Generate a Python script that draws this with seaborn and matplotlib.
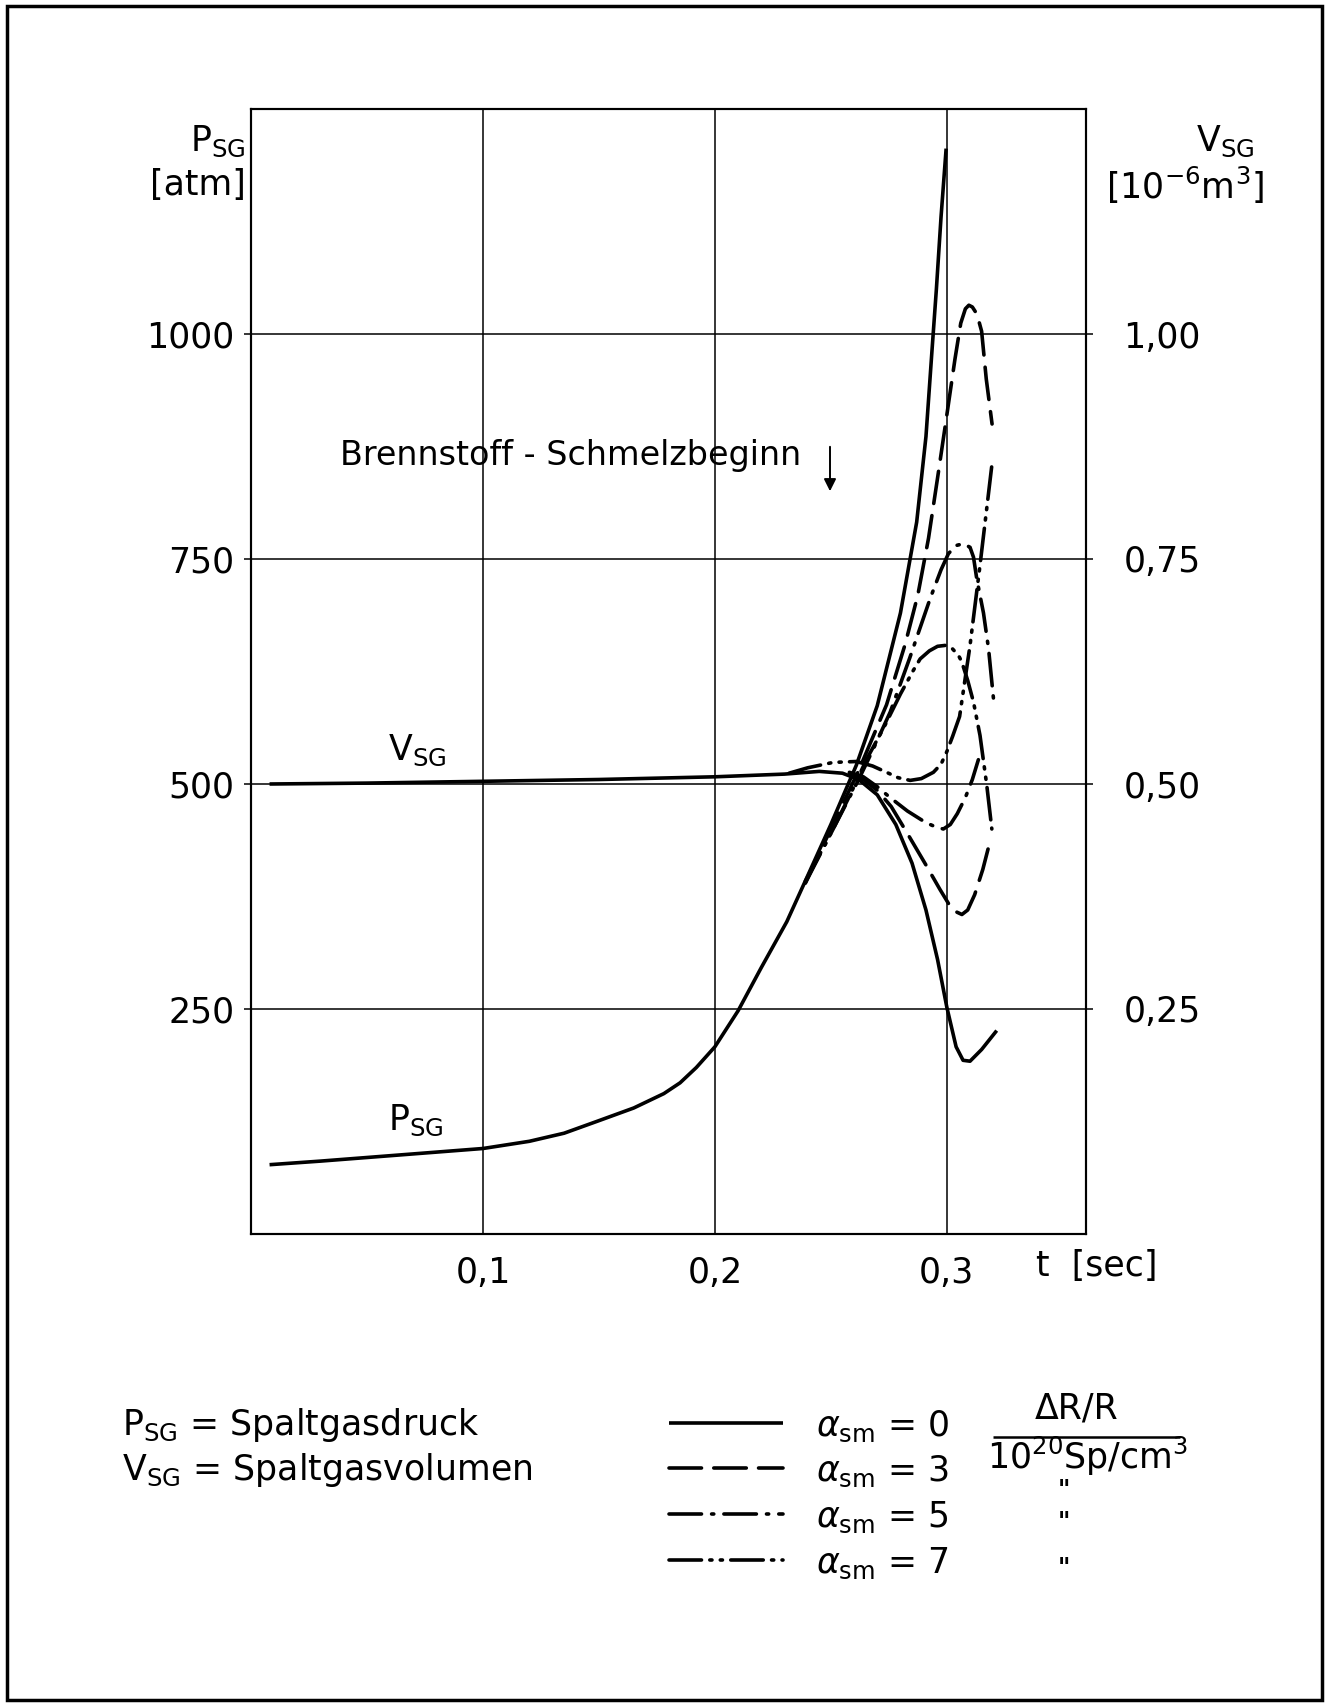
import matplotlib
matplotlib.use("Agg")
import matplotlib.pyplot as plt
import seaborn as sns
from matplotlib.lines import Line2D
from matplotlib.patches import Rectangle, FancyArrowPatch

# ---- time axis [sec] and fission gas pressure P_SG [atm] for alpha_sm = 0, 3, 5, 7
t_p0 = [0.008, 0.03, 0.05, 0.07, 0.10, 0.12, 0.135, 0.149, 0.165, 0.178, 0.185, 0.192,
        0.200, 0.210, 0.220, 0.231, 0.240, 0.250, 0.261, 0.270, 0.280, 0.287, 0.291,
        0.2935, 0.2955, 0.2975, 0.2997]
p_a0 = [77, 81, 85, 89, 95, 103, 112, 125, 140, 156, 168, 185,
        208, 248, 296, 347, 398, 455, 521, 587, 690, 791, 886,
        978, 1050, 1130, 1206]

t_p3 = [0.239, 0.250, 0.262, 0.274, 0.282, 0.2875, 0.2921, 0.296, 0.300, 0.3035, 0.3060,
        0.3080, 0.3095, 0.3110, 0.3130, 0.3150, 0.3170, 0.3195]
p_a3 = [390, 450, 515, 588, 655, 710, 773, 840, 910, 972, 1012,
        1028, 1032, 1030, 1022, 1003, 950, 900]

t_p5 = [0.239, 0.250, 0.262, 0.2685, 0.2756, 0.284, 0.2928, 0.2975, 0.3007, 0.3040, 0.3072,
        0.3100, 0.3115, 0.3129, 0.3158, 0.3180, 0.3201]
p_a5 = [390, 445, 505, 540, 580, 640, 706, 738, 756, 765, 767,
        763, 752, 728, 690, 650, 595]

t_p7 = [0.239, 0.250, 0.2583, 0.2655, 0.2727, 0.280, 0.2855, 0.2885, 0.2925, 0.296, 0.2993,
        0.3025, 0.3050, 0.3064, 0.3090, 0.3115, 0.3143, 0.3172, 0.3194]
p_a7 = [392, 445, 488, 528, 562, 600, 626, 639, 648, 653, 654,
        650, 643, 636, 615, 591, 554, 499, 450]

# ---- fission gas volume V_SG [10^-6 m^3]
t_v0 = [0.008, 0.05, 0.10, 0.15, 0.20, 0.23, 0.245, 0.255, 0.262, 0.270, 0.278, 0.285,
        0.291, 0.296, 0.300, 0.304, 0.307, 0.310, 0.315, 0.3215]
v_a0 = [0.500, 0.501, 0.503, 0.505, 0.508, 0.511, 0.514, 0.512, 0.505, 0.488, 0.455, 0.412,
        0.360, 0.305, 0.252, 0.208, 0.193, 0.192, 0.205, 0.226]

t_v3 = [0.258, 0.264, 0.270, 0.276, 0.283, 0.291, 0.297, 0.301, 0.304, 0.3065, 0.309,
        0.312, 0.3155, 0.319]
v_a3 = [0.512, 0.505, 0.493, 0.475, 0.445, 0.410, 0.383, 0.366, 0.358, 0.355, 0.360,
        0.377, 0.405, 0.440]

t_v5 = [0.258, 0.264, 0.270, 0.2755, 0.283, 0.291, 0.2955, 0.2985, 0.3015, 0.3045, 0.308,
        0.311, 0.3136]
v_a5 = [0.513, 0.508, 0.497, 0.485, 0.470, 0.457, 0.452, 0.450, 0.455, 0.467, 0.485,
        0.505, 0.527]

t_v7 = [0.232, 0.240, 0.251, 0.261, 0.268, 0.274, 0.279, 0.2842, 0.289, 0.2942, 0.2975,
        0.300, 0.3025, 0.3055, 0.310, 0.3143, 0.3194]
v_a7 = [0.512, 0.518, 0.524, 0.525, 0.520, 0.513, 0.507, 0.504, 0.506, 0.513, 0.522,
        0.536, 0.553, 0.575, 0.654, 0.743, 0.854]

alphas = [0, 3, 5, 7]
p_series = [(t_p0, p_a0), (t_p3, p_a3), (t_p5, p_a5), (t_p7, p_a7)]
v_series = [(t_v0, v_a0), (t_v3, v_a3), (t_v5, v_a5), (t_v7, v_a7)]

x_ticks = [0.1, 0.2, 0.3]
x_ticklabels = ["0,1", "0,2", "0,3"]
p_ticks = [250, 500, 750, 1000]
p_ticklabels = ["250", "500", "750", "1000"]
v_ticks = [0.25, 0.50, 0.75, 1.00]
v_ticklabels = ["0,25", "0,50", "0,75", "1,00"]

# ---- styling
sns.set_theme(style="white")
plt.rcParams["font.family"] = ["DejaVu Sans"]
plt.rcParams["mathtext.fontset"] = "dejavusans"
plt.rcParams["text.color"] = "black"
plt.rcParams["axes.labelcolor"] = "black"
plt.rcParams["xtick.color"] = "black"
plt.rcParams["ytick.color"] = "black"
plt.rcParams["lines.solid_capstyle"] = "butt"
plt.rcParams["lines.dash_capstyle"] = "round"

line_styles = {
    0: "-",
    3: (0, (9, 3.4)),
    5: (0, (9, 2.8, 0.6, 2.8)),
    7: (0, (9, 2.3, 0.6, 2.3, 0.6, 2.3)),
}
LW = 2.6
FS = 25

W, H = 1329, 1705
fig = plt.figure(figsize=(W / 100, H / 100), dpi=100)
fig.patch.set_facecolor("white")


def fx(x):
    return x / W


def fy(y):
    return 1 - y / H


ax = fig.add_axes([fx(251), fy(1234), (1086 - 251) / W, (1234 - 109) / H])
ax2 = ax.twinx()

for a, (tt, pp) in zip(alphas, p_series):
    sns.lineplot(x=tt, y=pp, ax=ax, color="black", lw=LW, linestyle=line_styles[a],
                 sort=False, estimator=None)
for a, (tt, vv) in zip(alphas, v_series):
    sns.lineplot(x=tt, y=vv, ax=ax2, color="black", lw=LW, linestyle=line_styles[a],
                 sort=False, estimator=None)

ax.set_xlim(0, 0.36)
ax.set_ylim(0, 1250)
ax2.set_ylim(0, 1.25)

ax.set_xticks(x_ticks)
ax.set_xticklabels(x_ticklabels, fontsize=FS)
ax.set_yticks(p_ticks)
ax.set_yticklabels(p_ticklabels, fontsize=FS)
ax2.set_yticks(v_ticks)
ax2.set_yticklabels(v_ticklabels, fontsize=FS)
ax.set_xlabel("")
ax.set_ylabel("")
ax2.set_ylabel("")

ax.grid(True, color="black", lw=1.1)
ax2.grid(False)
for a_ in (ax, ax2):
    for s in a_.spines.values():
        s.set_color("black")
        s.set_linewidth(1.5)
ax.tick_params(axis="both", which="major", direction="out", length=5, width=1.1,
               color="black", labelcolor="black")
ax.tick_params(axis="y", pad=7)
ax.tick_params(axis="x", pad=11)
ax2.tick_params(axis="y", direction="out", length=5, width=1.1, color="black",
                labelcolor="black", pad=22)

# axis captions
fig.text(fx(246), fy(141), r"P$_{\rm SG}$", fontsize=FS, ha="right", va="center")
fig.text(fx(246), fy(185), "[atm]", fontsize=FS, ha="right", va="center")
fig.text(fx(1196), fy(141), r"V$_{\rm SG}$", fontsize=FS, ha="left", va="center")
fig.text(fx(1106), fy(185), r"[10$^{-6}$m$^{3}$]", fontsize=FS, ha="left", va="center")
fig.text(fx(1036), fy(1266), "t  [sec]", fontsize=FS, ha="left", va="center")

# annotations inside the plot
fig.text(fx(340), fy(455), "Brennstoff - Schmelzbeginn", fontsize=24, ha="left", va="center")
fig.add_artist(FancyArrowPatch((fx(830), fy(444)), (fx(830), fy(494)),
                               transform=fig.transFigure, arrowstyle="-|>",
                               mutation_scale=18, color="black", lw=1.4))
fig.text(fx(388), fy(750), r"V$_{\rm SG}$", fontsize=FS, ha="left", va="center")
fig.text(fx(388), fy(1120), r"P$_{\rm SG}$", fontsize=FS, ha="left", va="center")

# legend block
fig.text(fx(122), fy(1425), r"P$_{\rm SG}$ = Spaltgasdruck", fontsize=FS, ha="left", va="center")
fig.text(fx(122), fy(1470), r"V$_{\rm SG}$ = Spaltgasvolumen", fontsize=FS, ha="left", va="center")

legend_y = [1423, 1468, 1514, 1560]
for a, ly in zip(alphas, legend_y):
    fig.add_artist(Line2D([fx(669), fx(783)], [fy(ly), fy(ly)], transform=fig.transFigure,
                          color="black", lw=LW, linestyle=line_styles[a]))
    fig.text(fx(816), fy(ly + 3), r"$\alpha_{\rm sm}$ = %d" % a, fontsize=FS,
             ha="left", va="center")

fig.text(fx(1077), fy(1409), "ΔR/R", fontsize=FS, ha="center", va="center")
fig.add_artist(Line2D([fx(993), fx(1180)], [fy(1437), fy(1437)], transform=fig.transFigure,
                      color="black", lw=1.8))
fig.text(fx(1088), fy(1456), r"10$^{20}$Sp/cm$^{3}$", fontsize=FS, ha="center", va="center")
# ditto marks under the unit fraction
for ly in [1490, 1522, 1568]:
    fig.text(fx(1064), fy(ly), '"', fontsize=17, fontweight="bold", ha="center", va="center")

# outer frame
fig.add_artist(Rectangle((fx(7), fy(1700)), (1322 - 7) / W, (1700 - 6) / H, fill=False,
                         transform=fig.transFigure, lw=2.5, edgecolor="black"))

fig.savefig("out.png", dpi=100, facecolor="white")
